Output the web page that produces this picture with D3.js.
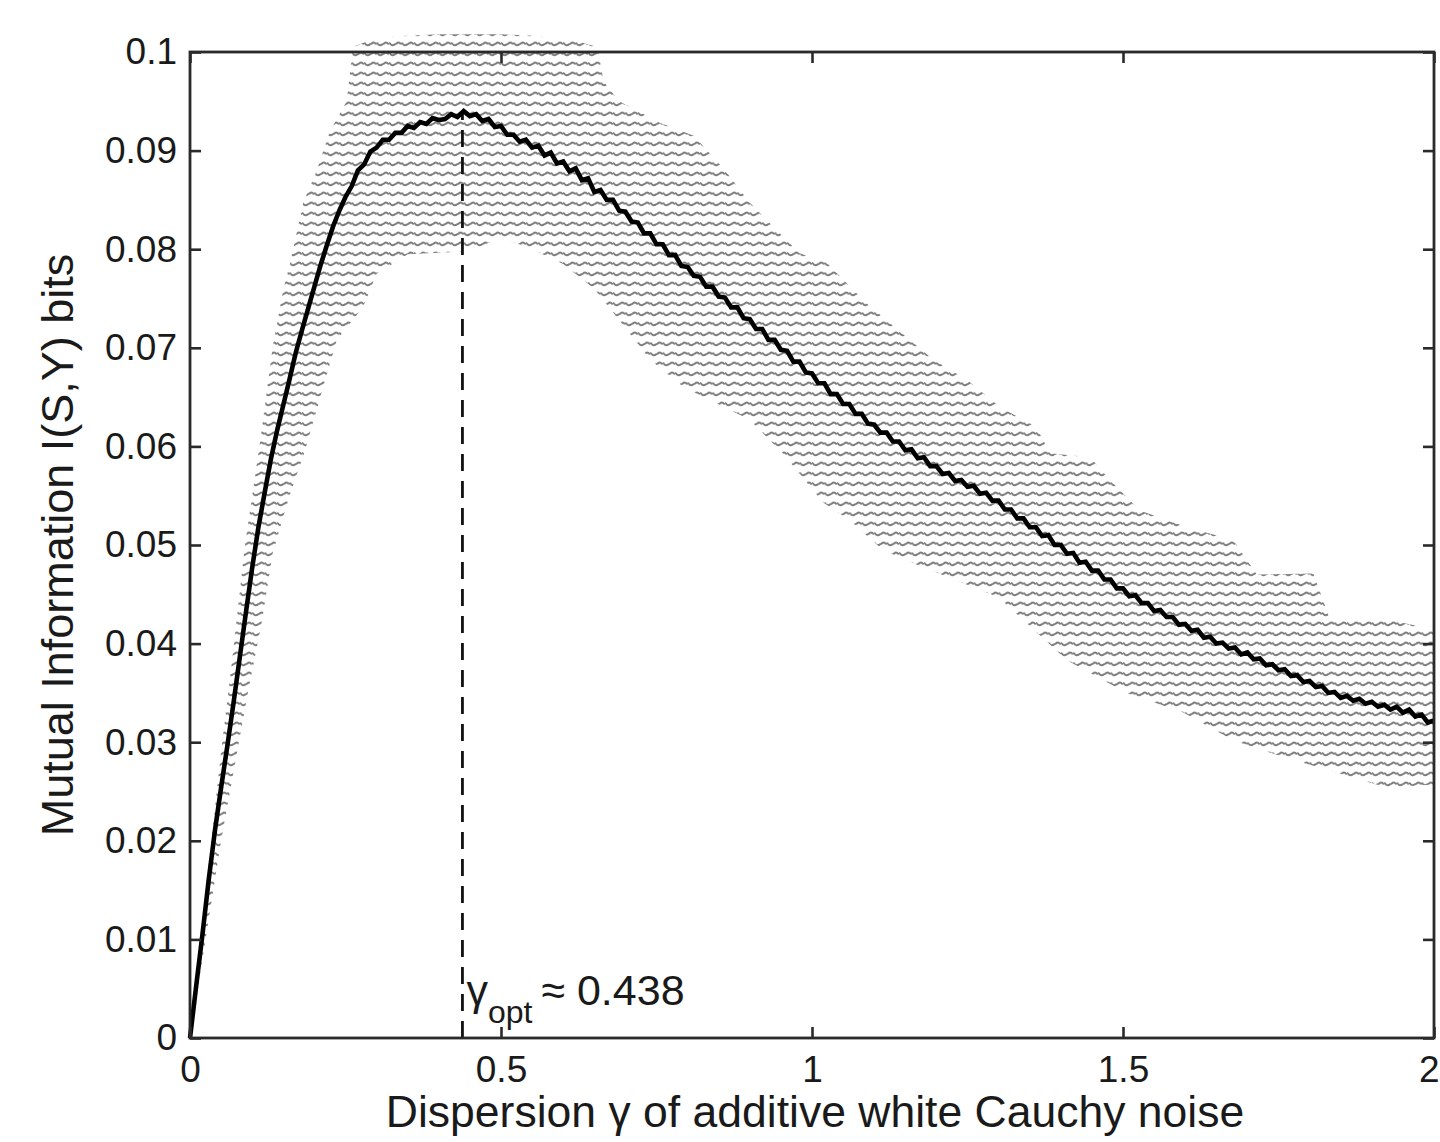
<!DOCTYPE html>
<html>
<head>
<meta charset="utf-8">
<script src="https://cdn.jsdelivr.net/npm/d3@7"></script>
<style>
  html, body { margin: 0; padding: 0; background: #fff; }
  svg { display: block; }
  text { font-family: "Liberation Sans", Arial, Helvetica, sans-serif; fill: #1a1a1a; }
</style>
</head>
<body>
<svg id="chart" width="1440" height="1142"></svg>
<script>
// ---------------- data ----------------
const xTicks = [0, 0.5, 1, 1.5, 2];
const xTickLabels = ["0", "0.5", "1", "1.5", "2"];
const yTicks = [0, 0.01, 0.02, 0.03, 0.04, 0.05, 0.06, 0.07, 0.08, 0.09, 0.1];
const yTickLabels = ["0", "0.01", "0.02", "0.03", "0.04", "0.05", "0.06", "0.07", "0.08", "0.09", "0.1"];

// dispersion grid (step 0.01 from 0 to 2)
const gamma = d3.range(0, 201).map(i => i / 100);

// mean mutual information (bits) at each gamma
const miMean = [
  0.0000, 0.0053, 0.0105, 0.0160, 0.0210, 0.0254, 0.0296, 0.0340, 0.0386, 0.0432,
  0.0477, 0.0518, 0.0553, 0.0587, 0.0616, 0.0642, 0.0668, 0.0695, 0.0718, 0.0740,
  0.0762, 0.0784, 0.0804, 0.0823, 0.0839, 0.0853, 0.0864, 0.0880, 0.0886, 0.0899,
  0.0903, 0.0911, 0.0911, 0.0918, 0.0918, 0.0925, 0.0923, 0.0929, 0.0927, 0.0933,
  0.0931, 0.0932, 0.0937, 0.0934, 0.0940, 0.0935, 0.0937, 0.0930, 0.0932, 0.0924,
  0.0925, 0.0916, 0.0916, 0.0909, 0.0911, 0.0903, 0.0905, 0.0895, 0.0898, 0.0887,
  0.0889, 0.0879, 0.0882, 0.0870, 0.0872, 0.0858, 0.0860, 0.0850, 0.0850, 0.0839,
  0.0838, 0.0828, 0.0827, 0.0816, 0.0816, 0.0805, 0.0805, 0.0794, 0.0794, 0.0783,
  0.0782, 0.0773, 0.0772, 0.0762, 0.0762, 0.0752, 0.0751, 0.0741, 0.0741, 0.0730,
  0.0729, 0.0719, 0.0719, 0.0708, 0.0708, 0.0698, 0.0697, 0.0686, 0.0686, 0.0675,
  0.0674, 0.0664, 0.0664, 0.0653, 0.0653, 0.0643, 0.0643, 0.0633, 0.0633, 0.0623,
  0.0622, 0.0614, 0.0614, 0.0605, 0.0605, 0.0596, 0.0597, 0.0588, 0.0589, 0.0580,
  0.0580, 0.0572, 0.0573, 0.0565, 0.0566, 0.0559, 0.0560, 0.0552, 0.0553, 0.0545,
  0.0545, 0.0536, 0.0536, 0.0527, 0.0527, 0.0518, 0.0518, 0.0509, 0.0510, 0.0500,
  0.0500, 0.0491, 0.0492, 0.0482, 0.0483, 0.0474, 0.0474, 0.0465, 0.0465, 0.0456,
  0.0456, 0.0448, 0.0449, 0.0441, 0.0441, 0.0433, 0.0434, 0.0427, 0.0427, 0.0419,
  0.0420, 0.0413, 0.0414, 0.0406, 0.0407, 0.0400, 0.0401, 0.0395, 0.0396, 0.0389,
  0.0391, 0.0384, 0.0385, 0.0378, 0.0379, 0.0373, 0.0374, 0.0367, 0.0368, 0.0361,
  0.0362, 0.0356, 0.0357, 0.0350, 0.0351, 0.0345, 0.0347, 0.0342, 0.0344, 0.0339,
  0.0341, 0.0336, 0.0338, 0.0333, 0.0336, 0.0330, 0.0333, 0.0326, 0.0328, 0.0320,
  0.0322
];

// upper envelope of the scatter of individual trials
const upperX = [0, 0.03, 0.05, 0.069, 0.088, 0.113, 0.133, 0.15, 0.161, 0.182, 0.204, 0.225, 0.252, 0.262,
  0.30, 0.40, 0.50, 0.60, 0.655, 0.665, 0.69, 0.756, 0.81, 0.86, 0.90, 0.98, 1.024, 1.088, 1.195, 1.25,
  1.302, 1.36, 1.383, 1.447, 1.479, 1.527, 1.603, 1.677, 1.715, 1.806, 1.833, 1.93, 2.0];
const upperY = [0, 0.0175, 0.029, 0.039, 0.0498, 0.0606, 0.0701, 0.0759, 0.0786, 0.0847, 0.088, 0.092, 0.095, 0.1005,
  0.1015, 0.1018, 0.1018, 0.1015, 0.1005, 0.097, 0.095, 0.0928, 0.0915, 0.088, 0.0847, 0.0796, 0.0786, 0.0745, 0.0688, 0.0667,
  0.064, 0.062, 0.0593, 0.0589, 0.0566, 0.0535, 0.0518, 0.0505, 0.047, 0.0471, 0.0424, 0.0424, 0.0414];

// lower envelope of the scatter
const lowerX = [0, 0.03, 0.05, 0.07, 0.093, 0.116, 0.133, 0.16, 0.185, 0.214, 0.236, 0.278, 0.30, 0.35, 0.45,
  0.50, 0.55, 0.60, 0.65, 0.70, 0.74, 0.794, 0.90, 0.953, 1.018, 1.061, 1.114, 1.169, 1.30, 1.41, 1.506,
  1.597, 1.677, 1.758, 1.817, 1.924, 2.0];
const lowerY = [0, 0.012, 0.020, 0.027, 0.035, 0.0424, 0.0492, 0.055, 0.0596, 0.066, 0.0708, 0.0741, 0.0775, 0.0795, 0.0798,
  0.0812, 0.0800, 0.0785, 0.076, 0.072, 0.0688, 0.066, 0.0627, 0.0593, 0.0543, 0.0525, 0.0495, 0.048, 0.0447, 0.0383, 0.035,
  0.033, 0.0302, 0.0285, 0.0274, 0.0254, 0.0257];

const gammaOpt = 0.438;
const miOpt = 0.0939;

// ---------------- layout ----------------
const svg = d3.select("#chart");
const W = 1440, H = 1142;
svg.append("rect").attr("width", W).attr("height", H).attr("fill", "#fff");

const x = d3.scaleLinear().domain([0, 2]).range([190, 1434]);
const y = d3.scaleLinear().domain([0, 0.1]).range([1038, 52]);

// texture pattern for the trial scatter
const defs = svg.append("defs");
const pw = x(0.02) - x(0);
const pat = defs.append("pattern")
  .attr("id", "scatter")
  .attr("patternUnits", "userSpaceOnUse")
  .attr("x", x(0)).attr("y", 0)
  .attr("width", pw).attr("height", 10);
pat.append("path")
  .attr("d", `M0.8,3.2 Q${pw*0.25},6.8 ${pw*0.47},4.2 M${pw*0.58},3.8 Q${pw*0.78},1.4 ${pw-0.8},3.8`)
  .attr("fill", "none")
  .attr("stroke", "#7d7d7d")
  .attr("stroke-width", 2)
  .attr("stroke-linecap", "round");

// band polygon
const bandPts = upperX.map((v, i) => [v, upperY[i]])
  .concat(lowerX.map((v, i) => [v, lowerY[i]]).reverse());
svg.append("path")
  .attr("d", d3.line().x(d => x(d[0])).y(d => y(d[1]))(bandPts) + "Z")
  .attr("fill", "url(#scatter)")
  .attr("stroke", "none");

// dashed optimum line
svg.append("line")
  .attr("x1", x(gammaOpt)).attr("x2", x(gammaOpt))
  .attr("y1", y(0)).attr("y2", y(miOpt))
  .attr("stroke", "#111")
  .attr("stroke-width", 2.8)
  .attr("stroke-dasharray", "17,10");

// mean curve
svg.append("path")
  .datum(gamma.map((g, i) => [g, miMean[i]]))
  .attr("d", d3.line().x(d => x(d[0])).y(d => y(d[1])))
  .attr("fill", "none")
  .attr("stroke", "#000")
  .attr("stroke-width", 4.6)
  .attr("stroke-linejoin", "miter");

// axes
const axisColor = "#2a2a2a";
function styleAxis(g) {
  g.select(".domain").remove();
  g.selectAll(".tick line").attr("stroke", axisColor).attr("stroke-width", 2.6);
  g.selectAll(".tick text").attr("font-size", 37).attr("fill", "#1a1a1a")
    .attr("font-family", '"Liberation Sans", Arial, sans-serif');
}
const gL = svg.append("g").attr("transform", `translate(${x(0)},0)`)
  .call(d3.axisLeft(y).tickValues(yTicks).tickFormat((d, i) => yTickLabels[i]).tickSize(-11).tickSizeOuter(0).tickPadding(13));
styleAxis(gL);
const gR = svg.append("g").attr("transform", `translate(${x(2)},0)`)
  .call(d3.axisRight(y).tickValues(yTicks).tickFormat("").tickSize(-11).tickSizeOuter(0));
styleAxis(gR);
const gB = svg.append("g").attr("transform", `translate(0,${y(0)})`)
  .call(d3.axisBottom(x).tickValues(xTicks).tickFormat((d, i) => xTickLabels[i]).tickSize(-11).tickSizeOuter(0).tickPadding(18));
styleAxis(gB);
// keep the last x label inside the page edge
gB.selectAll(".tick text").filter(d => d === 2).attr("text-anchor", "end").attr("dx", 5);
const gT = svg.append("g").attr("transform", `translate(0,${y(0.1)})`)
  .call(d3.axisTop(x).tickValues(xTicks).tickFormat("").tickSize(-11).tickSizeOuter(0));
styleAxis(gT);

// frame
svg.append("rect")
  .attr("x", x(0)).attr("y", y(0.1))
  .attr("width", x(2) - x(0)).attr("height", y(0) - y(0.1))
  .attr("fill", "none").attr("stroke", axisColor).attr("stroke-width", 2.8);

// axis titles
svg.append("text")
  .attr("x", (x(0) + x(2)) / 2 + 3).attr("y", 1127)
  .attr("text-anchor", "middle")
  .attr("font-size", 44.5)
  .text("Dispersion \u03B3 of additive white Cauchy noise");

svg.append("text")
  .attr("transform", `translate(73,${(y(0) + y(0.1)) / 2}) rotate(-90)`)
  .attr("text-anchor", "middle")
  .attr("font-size", 45)
  .text("Mutual Information I(S,Y) bits");

// annotation
const ann = svg.append("text")
  .attr("x", x(gammaOpt) + 4).attr("y", 1005)
  .attr("font-size", 43);
ann.append("tspan").text("\u03B3");
ann.append("tspan").attr("font-size", 32).attr("dy", 18).text("opt");
ann.append("tspan").attr("dy", -18).attr("dx", 9).text("\u2248 0.438");
</script>
</body>
</html>
